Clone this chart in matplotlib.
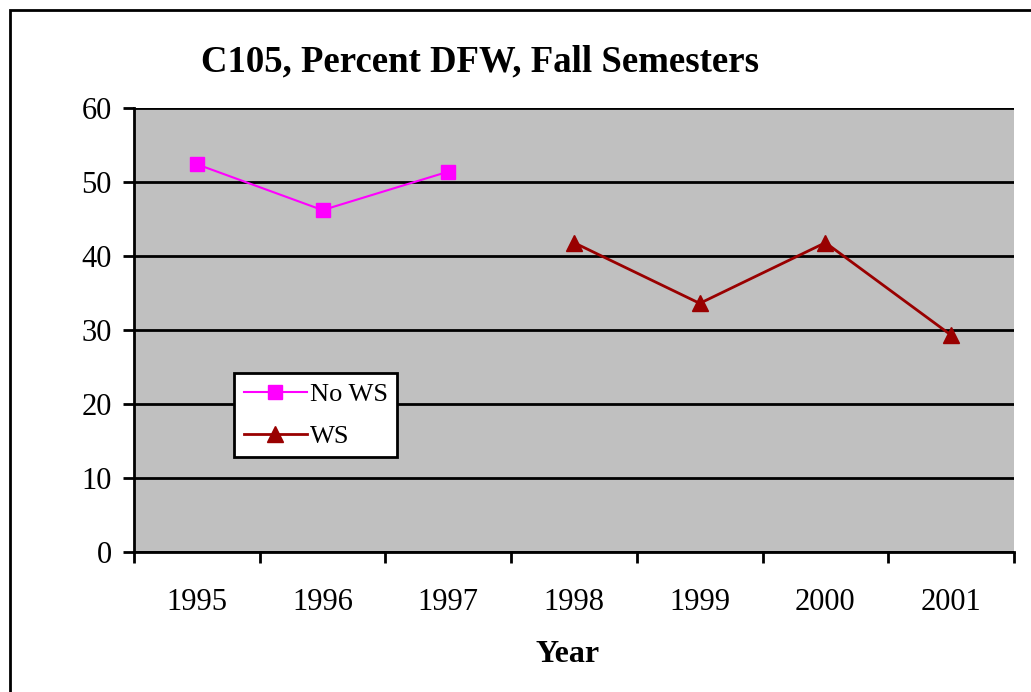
import matplotlib.pyplot as plt
from matplotlib.patches import Rectangle

years = ["1995", "1996", "1997", "1998", "1999", "2000", "2001"]
no_ws = [52.4, 46.2, 51.4, None, None, None, None]
ws = [None, None, None, 41.8, 33.6, 41.8, 29.3]

plt.rcParams['font.family'] = ['Liberation Serif', 'DejaVu Serif']

fig = plt.figure(figsize=(10.31, 6.92), dpi=100)
ax = fig.add_axes([134/1031, 1 - 552/692, 880/1031, 444/692])
ax.set_facecolor('#C0C0C0')

x = list(range(len(years)))
nx = [i for i, v in zip(x, no_ws) if v is not None]
ny = [v for v in no_ws if v is not None]
wx = [i for i, v in zip(x, ws) if v is not None]
wy = [v for v in ws if v is not None]

ax.plot(nx, ny, color='#FF00FF', lw=1.5, marker='s', ms=10, label='No WS', zorder=3)
ax.plot(wx, wy, color='#990000', lw=2, marker='^', ms=12, label='WS', zorder=3)

ax.set_xlim(-0.5, 6.5)
ax.set_ylim(0, 60)
ax.set_yticks(range(0, 61, 10))
ax.yaxis.grid(True, color='black', lw=2)
ax.set_axisbelow(True)

ax.set_xticks([i - 0.5 for i in range(8)])
ax.set_xticklabels([])
ax.set_xticks(x, minor=True)
ax.set_xticklabels(years, minor=True)
ax.tick_params(axis='x', which='minor', length=0, pad=26, labelsize=22)
ax.tick_params(axis='x', which='major', direction='out', length=8, width=2)
ax.tick_params(axis='y', direction='out', length=8, width=2, labelsize=22, pad=8)

for s in ['top', 'right']:
    ax.spines[s].set_visible(False)
for s in ['left', 'bottom']:
    ax.spines[s].set_linewidth(2)

leg = ax.legend(loc='lower left', bbox_to_anchor=(0.114, 0.214), fontsize=19,
                frameon=True, fancybox=False, edgecolor='black', framealpha=1,
                borderpad=0.35, handlelength=2.4, handletextpad=0.1, labelspacing=0.7,
                borderaxespad=0)
leg.get_frame().set_linewidth(2)

fig.text(480/1031, 1 - 62/692, 'C105, Percent DFW, Fall Semesters', ha='center', va='center',
         fontsize=26.5, fontweight='bold')
fig.text(568/1031, 1 - 654/692, 'Year', ha='center', va='center', fontsize=23, fontweight='bold')

fig.patches.append(Rectangle((10/1031, -0.1), 1.1, 1 - 10/692 + 0.1, transform=fig.transFigure,
                             fill=False, edgecolor='black', lw=2))

fig.savefig('out.png', dpi=100)
